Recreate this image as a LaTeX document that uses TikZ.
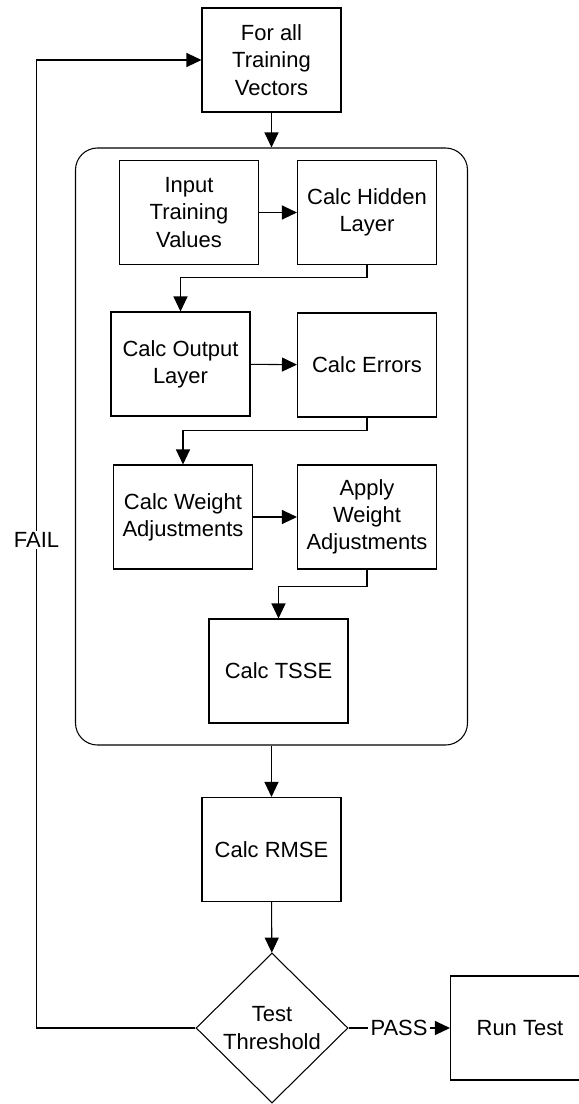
\documentclass[tikz,border=0pt]{standalone}
\usepackage{fontspec}
\setmainfont{Liberation Sans}
\usetikzlibrary{arrows.meta,shapes.geometric}
\begin{document}
\begin{tikzpicture}[
  box/.style={draw,shape=rectangle,line width=0.6pt,minimum width=2.78cm,minimum height=2.08cm,align=center,inner sep=1pt,font=\fontsize{12.5}{15.5}\selectfont},
  flow/.style={line width=0.6pt,-{Triangle[length=0.3cm,width=0.28cm]}},
  lbl/.style={font=\fontsize{12.5}{15.5}\selectfont,inner sep=1pt}]
\useasboundingbox (0,0) rectangle (11.58,-22.08);
\node [draw,shape=rectangle,rounded corners=0.44cm,line width=0.6pt,name=group,minimum width=7.84cm,minimum height=11.94cm] at (5.43,-8.93){};
\node [box,name=forall] at (5.43,-1.20){For all\\Training\\Vectors};
\node [box,name=input] at (3.78,-4.25){Input\\Training\\Values};
\node [box,name=hidden] at (7.34,-4.25){Calc Hidden\\Layer};
\node [box,name=output] at (3.61,-7.28){Calc Output\\Layer};
\node [box,name=errors] at (7.34,-7.30){Calc Errors};
\node [box,name=weight] at (3.66,-10.34){Calc Weight\\Adjustments};
\node [box,name=apply] at (7.34,-10.34){Apply\\Weight\\Adjustments};
\node [box,name=tsse] at (5.57,-13.42){Calc TSSE};
\node [box,name=rmse] at (5.43,-16.99){Calc RMSE};
\node [draw,shape=diamond,line width=0.6pt,name=test,minimum width=3.04cm,minimum height=3.0cm,inner sep=0pt,align=center,font=\fontsize{12.5}{15.5}\selectfont] at (5.44,-20.56){Test\\Threshold};
\node [box,name=runtest] at (10.40,-20.56){Run Test};
\coordinate (failx) at (0.73,0);
\draw[flow] (forall)--(group);
\draw[flow] (input)--(hidden);
\draw[flow] (hidden.south)--++(0,-0.24)-|(output.north);
\draw[flow] (output)--(errors);
\draw[flow] (errors.south)--++(0,-0.26)-|(weight.north);
\draw[flow] (weight)--(apply);
\draw[flow] (apply.south)--++(0,-0.34)-|(tsse.north);
\draw[flow] (group)--(rmse);
\draw[flow] (rmse)--(test);
\draw[flow] (test.west)--(test.west-|failx)--(forall.west-|failx)--(forall.west);
\node [lbl,fill=white,name=fail] at (0.73,-10.8){FAIL};
\node [lbl,name=pass] at (7.98,-20.56){PASS};
\draw[line width=0.6pt] (test.east)--(pass);
\draw[flow] (pass)--(runtest);
\end{tikzpicture}
\end{document}
